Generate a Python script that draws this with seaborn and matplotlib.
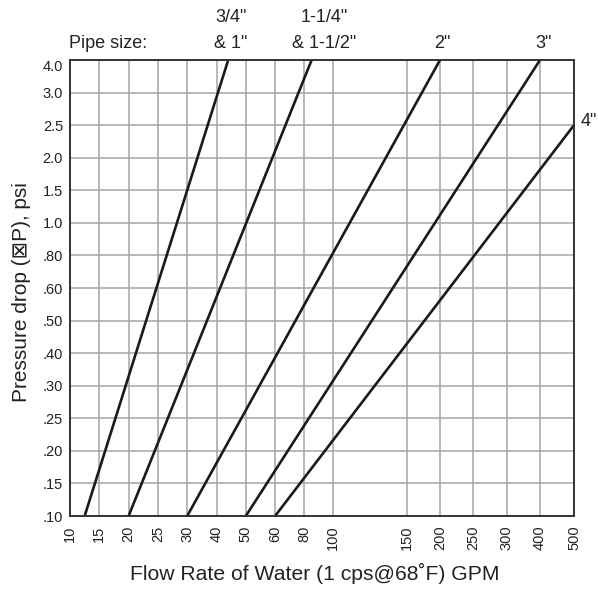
import numpy as np
import pandas as pd
import matplotlib
matplotlib.use("Agg")
import matplotlib.pyplot as plt
import seaborn as sns

# ---- data ----
x_ticks = [10, 15, 20, 25, 30, 40, 50, 60, 80, 100, 150, 200, 250, 300, 400, 500]
y_ticks = [0.10, 0.15, 0.20, 0.25, 0.30, 0.40, 0.50, 0.60, 0.80, 1.0, 1.5, 2.0, 2.5, 3.0, 4.0]
y_tick_labels = [".10", ".15", ".20", ".25", ".30", ".40", ".50", ".60", ".80",
                 "1.0", "1.5", "2.0", "2.5", "3.0", "4.0"]
pipes = ['3/4" & 1"', '1-1/4" & 1-1/2"', '2"', '3"', '4"']
flow_start = [12.5, 20, 30, 50, 60]
flow_end = [44, 85, 200, 400, 500]
dp_start = [0.10, 0.10, 0.10, 0.10, 0.10]
dp_end = [4.0, 4.0, 4.0, 4.0, 2.5]

# ---- chart-paper scale (layout, not data) ----
x_pos = [0, 29.3, 58.6, 87.9, 117.2, 146.5, 175.8, 205.1, 234.4, 263.3,
         336.7, 370.0, 403.3, 436.7, 470.0, 504.0]
y_pos = list(range(len(y_ticks)))

def fx(v):
    return np.interp(np.asarray(v, dtype=float), x_ticks, x_pos)
def fx_inv(p):
    return np.interp(np.asarray(p, dtype=float), x_pos, x_ticks)
def fy(v):
    return np.interp(np.asarray(v, dtype=float), y_ticks, y_pos)
def fy_inv(p):
    return np.interp(np.asarray(p, dtype=float), y_pos, y_ticks)

rows = []
for name, x0, x1, y0, y1 in zip(pipes, flow_start, flow_end, dp_start, dp_end):
    rows.append({"pipe": name, "flow": x0, "dp": y0})
    rows.append({"pipe": name, "flow": x1, "dp": y1})
df = pd.DataFrame(rows)

sns.set_theme(style="white")
plt.rcParams['font.family'] = ['Liberation Sans', 'DejaVu Sans']

fig = plt.figure(figsize=(5.98, 5.90), dpi=100)
ax = fig.add_axes([70/598, 1 - 516/590, (574 - 70)/598, (516 - 60)/590])
ax.set_xscale('function', functions=(fx, fx_inv))
ax.set_yscale('function', functions=(fy, fy_inv))

sns.lineplot(data=df, x="flow", y="dp", hue="pipe", units="pipe", estimator=None,
             palette=["#1a1a1a"] * len(pipes), linewidth=1.9, legend=False,
             sort=False, ax=ax, zorder=3)

ax.set_xlim(x_ticks[0], x_ticks[-1])
ax.set_ylim(y_ticks[0], y_ticks[-1])
ax.set_xticks(x_ticks)
ax.set_xticklabels([str(v) for v in x_ticks], rotation=90)
ax.set_yticks(y_ticks)
ax.set_yticklabels(y_tick_labels)
ax.minorticks_off()
ax.tick_params(axis='x', length=0, pad=7, labelsize=10.5, labelcolor="#222222")
ax.tick_params(axis='y', length=0, pad=5, labelsize=10.5, labelcolor="#222222")
ax.get_yticklabels()[-1].set_va('top')

ax.grid(True, color="#a6a6a6", linewidth=1.1)
ax.set_axisbelow(True)
for s in ax.spines.values():
    s.set_color("#333333")
    s.set_linewidth(1.4)
    s.set_zorder(4)

ax.set_xlabel("Flow Rate of Water (1 cps@68˚F) GPM", fontsize=15.2, color="#222222")
ax.xaxis.set_label_coords((315 - 70) / 504, -(563 - 516) / 456)
ax.set_ylabel("Pressure drop (⊠P), psi", fontsize=15, color="#222222")
ax.yaxis.set_label_coords((31 - 70) / 504, 1 - (292 - 60) / 456)

# Header labels (figure pixel placement)
def ftext(px, py, s, **kw):
    fig.text(px/598, 1 - py/590, s, fontsize=13, color="#222222",
             ha=kw.pop('ha', 'center'), va='center', **kw)

ftext(69, 43, "Pipe size:", ha='left')
ftext(231, 18, '3/4"')
ftext(231, 43, '& 1"')
ftext(324, 18, '1-1/4"')
ftext(324, 43, '& 1-1/2"')
ftext(442, 43, '2"')
ftext(544, 43, '3"')
ftext(589, 122, '4"')

fig.savefig("out.png", dpi=100)
